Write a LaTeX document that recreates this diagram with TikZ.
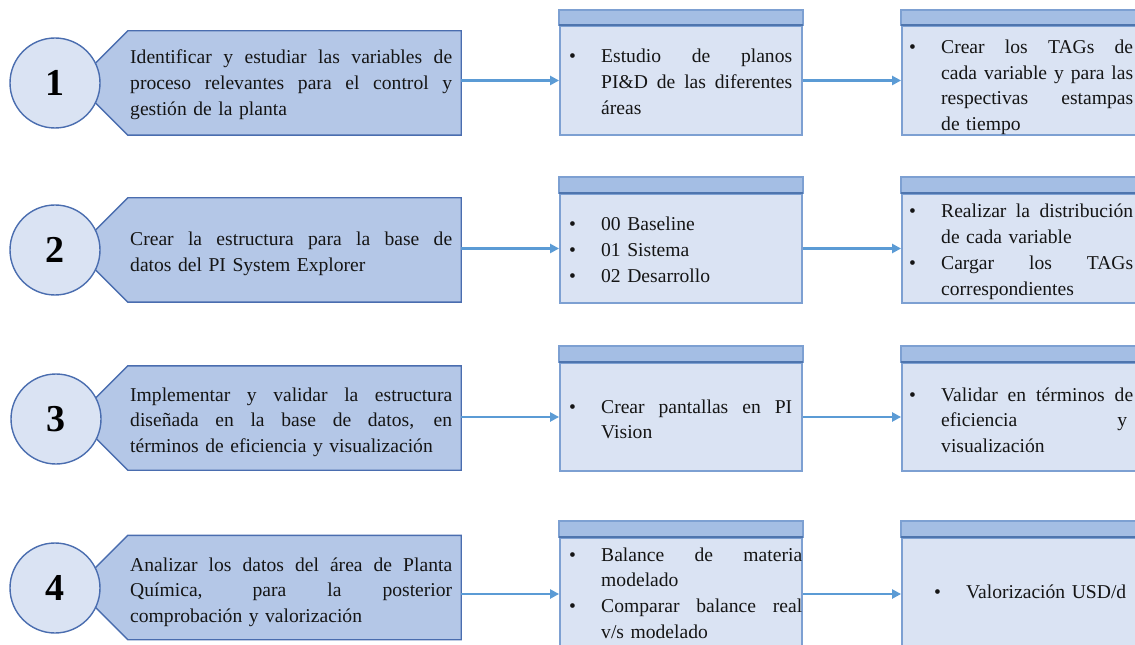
\documentclass[tikz,border=0pt]{standalone}
\usepackage{fontspec}
\setmainfont{Liberation Serif}
\usetikzlibrary{arrows.meta}

\definecolor{pentfill}{HTML}{B4C7E7}
\definecolor{pentline}{HTML}{4A6DAF}
\definecolor{circfill}{HTML}{DAE3F3}
\definecolor{bodyfill}{HTML}{DAE3F3}
\definecolor{headfill}{HTML}{A4BEE4}
\definecolor{boxline}{HTML}{7DA0D2}
\definecolor{rulecol}{HTML}{4E75AE}
\definecolor{flowcol}{HTML}{5B9BD5}
\definecolor{ink}{HTML}{151515}

% one justified line of a given width (interword spaces stretched evenly)
\newcommand{\jline}[2]{\leavevmode\hbox to #1{\spaceskip=0.25em plus 1fil\relax #2}}
% bullet and hanging indent for list lines
\newcommand{\bul}{\makebox[33bp][l]{\hspace{1bp}\textbullet}}
\newcommand{\ind}{\hspace*{33bp}}

\tikzset{
  numcirc/.style={circle, draw=pentline, line width=1.4bp, fill=circfill,
    minimum size=90bp, inner sep=0pt, text=black,
    font=\fontsize{38bp}{38bp}\selectfont\bfseries},
  pentbody/.style={rectangle, minimum width=333bp, minimum height=104bp, inner sep=0pt},
  pentshape/.style={fill=pentfill, draw=pentline, line width=1.4bp, line join=miter},
  boxbody/.style={rectangle, draw=boxline, line width=1.8bp, fill=bodyfill,
    minimum width=242bp, inner sep=0pt},
  boxhead/.style={fill=headfill, draw=boxline, line width=1.8bp},
  headrule/.style={draw=rulecol, line width=1.8bp},
  flow/.style={draw=flowcol, line width=2.6bp, -{Triangle[length=9bp,width=9bp]}},
  txt/.style={inner sep=0pt, anchor=base west, align=left, text=ink,
    font=\fontsize{19.6bp}{25.7bp}\selectfont}
}

\begin{document}
\begin{tikzpicture}[x=1bp, y=-1bp]
\useasboundingbox (0,0) rectangle (1135,645);
\clip (0,0) rectangle (1135,645);

% ---------- step 1 ----------
\node[pentbody] (p1) at (294.5,83) {};
\path[pentshape] (p1.north east) -- (p1.north west) -- ([xshift=-52bp]p1.west)
  -- (p1.south west) -- (p1.south east) -- cycle;
\node[numcirc] (c1) at (55,83) {1};
\node[txt, text width=322bp] (t1) at (130,64)
  {\jline{322bp}{Identificar y estudiar las variables de}\\
   \jline{322bp}{proceso relevantes para el control y}\\
   gestión de la planta};

\node[boxbody, minimum height=109bp] (m1) at (681,80.5) {};
\draw[boxhead] (m1.north west) rectangle ([yshift=15bp]m1.north east);
\draw[headrule] (m1.north west) -- (m1.north east);
\node[txt, text width=224bp] (mt1) at (568,63)
  {\bul\jline{191bp}{Estudio de planos}\\
   \ind\jline{191bp}{PI\&D de las diferentes}\\
   \ind áreas};

\node[boxbody, minimum height=109bp] (r1) at (1023,80.5) {};
\draw[boxhead] (r1.north west) rectangle ([yshift=15bp]r1.north east);
\draw[headrule] (r1.north west) -- (r1.north east);
\node[txt, text width=226bp] (rt1) at (908,53.5)
  {\bul\jline{192bp}{Crear los TAGs de}\\
   \ind\jline{192bp}{cada variable y para las}\\
   \ind\jline{192bp}{respectivas estampas}\\
   \ind de tiempo};

\draw[flow] (p1.east |- m1.west) -- (m1.west);
\draw[flow] (m1.east) -- (r1.west);

% ---------- step 2 ----------
\node[pentbody] (p2) at (294.5,250) {};
\path[pentshape] (p2.north east) -- (p2.north west) -- ([xshift=-52bp]p2.west)
  -- (p2.south west) -- (p2.south east) -- cycle;
\node[numcirc] (c2) at (55,250) {2};
\node[txt, text width=322bp] (t2) at (130,246)
  {\jline{322bp}{Crear la estructura para la base de}\\
   datos del PI System Explorer};

\node[boxbody, minimum height=109bp] (m2) at (681,248.5) {};
\draw[boxhead] (m2.north west) rectangle ([yshift=16bp]m2.north east);
\draw[headrule] (m2.north west) -- (m2.north east);
\node[txt, text width=224bp] (mt2) at (568,231)
  {\bul 00 Baseline\\
   \bul 01 Sistema\\
   \bul 02 Desarrollo};

\node[boxbody, minimum height=109bp] (r2) at (1023,248.5) {};
\draw[boxhead] (r2.north west) rectangle ([yshift=16bp]r2.north east);
\draw[headrule] (r2.north west) -- (r2.north east);
\node[txt, text width=226bp] (rt2) at (908,218)
  {\bul\jline{192bp}{Realizar la distribución}\\
   \ind de cada variable\\
   \bul\jline{192bp}{Cargar los TAGs}\\
   \ind correspondientes};

\draw[flow] (p2.east |- m2.west) -- (m2.west);
\draw[flow] (m2.east) -- (r2.west);

% ---------- step 3 ----------
\node[pentbody] (p3) at (294.5,418) {};
\path[pentshape] (p3.north east) -- (p3.north west) -- ([xshift=-52bp]p3.west)
  -- (p3.south west) -- (p3.south east) -- cycle;
\node[numcirc] (c3) at (56,419) {3};
\node[txt, text width=322bp] (t3) at (130,401)
  {\jline{322bp}{Implementar y validar la estructura}\\
   \jline{322bp}{diseñada en la base de datos, en}\\
   términos de eficiencia y visualización};

\node[boxbody, minimum height=108bp] (m3) at (681,417) {};
\draw[boxhead] (m3.north west) rectangle ([yshift=16bp]m3.north east);
\draw[headrule] (m3.north west) -- (m3.north east);
\node[txt, text width=224bp] (mt3) at (568,413)
  {\bul\jline{191bp}{Crear pantallas en PI}\\
   \ind Vision};

\node[boxbody, minimum height=108bp] (r3) at (1023,417) {};
\draw[boxhead] (r3.north west) rectangle ([yshift=16bp]r3.north east);
\draw[headrule] (r3.north west) -- (r3.north east);
\node[txt, text width=226bp] (rt3) at (908,401)
  {\bul\jline{192bp}{Validar en términos de}\\
   \ind\jline{186bp}{eficiencia y}\\
   \ind visualización};

\draw[flow] (p3.east |- m3.west) -- (m3.west);
\draw[flow] (m3.east) -- (r3.west);

% ---------- step 4 ----------
\node[pentbody] (p4) at (294.5,587.5) {};
\path[pentshape] (p4.north east) -- (p4.north west) -- ([xshift=-52bp]p4.west)
  -- (p4.south west) -- (p4.south east) -- cycle;
\node[numcirc] (c4) at (55,588) {4};
\node[txt, text width=322bp] (t4) at (130,571)
  {\jline{322bp}{Analizar los datos del área de Planta}\\
   \jline{322bp}{Química, para la posterior}\\
   comprobación y valorización};

\node[boxbody, minimum height=112bp] (m4) at (681,594) {};
\draw[boxhead] (m4.north west) rectangle ([yshift=16bp]m4.north east);
\draw[headrule] (m4.north west) -- (m4.north east);
\node[txt, text width=234bp] (mt4) at (568,561)
  {\bul\jline{201bp}{Balance de materia}\\
   \ind modelado\\
   \bul\jline{201bp}{Comparar balance real}\\
   \ind v/s modelado};

\node[boxbody, minimum height=112bp] (r4) at (1023,594) {};
\draw[boxhead] (r4.north west) rectangle ([yshift=16bp]r4.north east);
\draw[headrule] (r4.north west) -- (r4.north east);
\node[txt, text width=200bp] (rt4) at (933,598)
  {\bul Valorización USD/d};

\draw[flow] (p4.east |- m4.west) -- (m4.west);
\draw[flow] (m4.east) -- (r4.west);
\end{tikzpicture}
\end{document}
